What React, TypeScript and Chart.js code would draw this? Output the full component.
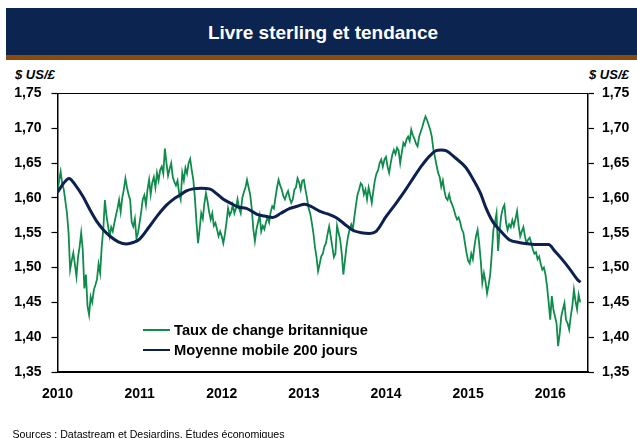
import React, { useEffect, useRef } from "react";
import { Chart, registerables } from "chart.js";

Chart.register(...registerables);

// Weekly GBP/USD readings (52 per year, x = year + week/52)
const gbp2010 = [1.607, 1.625, 1.638, 1.62, 1.612, 1.595, 1.578, 1.55, 1.497, 1.51, 1.521, 1.505, 1.487, 1.515, 1.53, 1.55, 1.525, 1.47, 1.49, 1.445, 1.432, 1.458, 1.45, 1.468, 1.475, 1.483, 1.505, 1.492, 1.53, 1.555, 1.597, 1.575, 1.56, 1.545, 1.558, 1.552, 1.564, 1.575, 1.585, 1.597, 1.58, 1.6, 1.612, 1.628, 1.615, 1.605, 1.597, 1.565, 1.559, 1.57, 1.542, 1.55];
const gbp2011 = [1.565, 1.58, 1.598, 1.604, 1.59, 1.612, 1.626, 1.605, 1.622, 1.63, 1.615, 1.636, 1.625, 1.64, 1.645, 1.635, 1.671, 1.65, 1.632, 1.642, 1.65, 1.63, 1.623, 1.618, 1.625, 1.607, 1.598, 1.636, 1.625, 1.643, 1.635, 1.65, 1.656, 1.64, 1.626, 1.6, 1.565, 1.535, 1.555, 1.578, 1.57, 1.592, 1.607, 1.595, 1.58, 1.569, 1.578, 1.56, 1.564, 1.555, 1.545, 1.552];
const gbp2012 = [1.545, 1.535, 1.548, 1.565, 1.585, 1.575, 1.58, 1.59, 1.578, 1.585, 1.598, 1.585, 1.578, 1.6, 1.608, 1.615, 1.626, 1.615, 1.605, 1.585, 1.555, 1.538, 1.555, 1.565, 1.575, 1.552, 1.56, 1.555, 1.565, 1.572, 1.565, 1.58, 1.588, 1.585, 1.6, 1.615, 1.626, 1.618, 1.612, 1.603, 1.598, 1.605, 1.61, 1.6, 1.593, 1.598, 1.612, 1.615, 1.628, 1.622, 1.612, 1.625];
const gbp2013 = [1.626, 1.612, 1.6, 1.585, 1.578, 1.565, 1.55, 1.53, 1.515, 1.495, 1.505, 1.516, 1.52, 1.53, 1.535, 1.548, 1.559, 1.545, 1.53, 1.515, 1.52, 1.56, 1.55, 1.54, 1.52, 1.49, 1.51, 1.53, 1.545, 1.555, 1.562, 1.555, 1.573, 1.59, 1.605, 1.612, 1.621, 1.618, 1.605, 1.612, 1.598, 1.615, 1.605, 1.593, 1.61, 1.626, 1.635, 1.64, 1.65, 1.655, 1.645, 1.655];
const gbp2014 = [1.659, 1.645, 1.636, 1.65, 1.662, 1.669, 1.663, 1.672, 1.668, 1.65, 1.665, 1.679, 1.675, 1.684, 1.688, 1.682, 1.698, 1.69, 1.685, 1.678, 1.674, 1.688, 1.695, 1.702, 1.71, 1.717, 1.712, 1.705, 1.698, 1.688, 1.67, 1.659, 1.647, 1.636, 1.63, 1.616, 1.625, 1.61, 1.6, 1.597, 1.605, 1.595, 1.59, 1.583, 1.575, 1.569, 1.572, 1.565, 1.555, 1.55, 1.535, 1.521];
const gbp2015 = [1.51, 1.506, 1.52, 1.512, 1.53, 1.545, 1.554, 1.535, 1.51, 1.478, 1.492, 1.48, 1.463, 1.475, 1.49, 1.52, 1.554, 1.565, 1.578, 1.524, 1.555, 1.575, 1.585, 1.59, 1.565, 1.554, 1.562, 1.558, 1.568, 1.56, 1.57, 1.581, 1.56, 1.545, 1.552, 1.558, 1.545, 1.535, 1.54, 1.543, 1.535, 1.526, 1.52, 1.522, 1.512, 1.516, 1.505, 1.497, 1.5, 1.49, 1.473, 1.45];
const gbp2016 = [1.425, 1.459, 1.44, 1.43, 1.42, 1.387, 1.405, 1.43, 1.44, 1.449, 1.425, 1.42, 1.411, 1.43, 1.445, 1.468, 1.452, 1.44, 1.461, 1.45];
const gbpYears = [2010, 2011, 2012, 2013, 2014, 2015, 2016];

// 200-day moving average readings
const maX = [2010.0, 2010.08, 2010.14, 2010.22, 2010.31, 2010.4, 2010.48, 2010.56, 2010.64, 2010.74, 2010.84, 2010.92, 2011.0, 2011.12, 2011.22, 2011.33, 2011.41, 2011.49, 2011.57, 2011.65, 2011.75, 2011.85, 2011.95, 2012.02, 2012.1, 2012.2, 2012.3, 2012.38, 2012.44, 2012.52, 2012.62, 2012.72, 2012.83, 2012.92, 2013.01, 2013.1, 2013.19, 2013.29, 2013.39, 2013.49, 2013.59, 2013.7, 2013.8, 2013.88, 2014.0, 2014.12, 2014.24, 2014.34, 2014.44, 2014.53, 2014.61, 2014.67, 2014.73, 2014.85, 2014.97, 2015.06, 2015.15, 2015.22, 2015.3, 2015.4, 2015.5, 2015.62, 2015.74, 2015.85, 2015.98, 2016.06, 2016.15, 2016.25, 2016.33, 2016.37];
const maY = [1.608, 1.622, 1.628, 1.618, 1.602, 1.582, 1.566, 1.554, 1.545, 1.537, 1.534, 1.536, 1.541, 1.559, 1.575, 1.59, 1.598, 1.604, 1.61, 1.613, 1.614, 1.613, 1.605, 1.598, 1.593, 1.587, 1.585, 1.58, 1.576, 1.574, 1.572, 1.578, 1.585, 1.588, 1.591, 1.587, 1.581, 1.577, 1.572, 1.563, 1.554, 1.55, 1.549, 1.552, 1.573, 1.592, 1.612, 1.63, 1.647, 1.66, 1.668, 1.669, 1.668, 1.657, 1.644, 1.627, 1.607, 1.585, 1.566, 1.552, 1.54, 1.536, 1.534, 1.533, 1.533, 1.523, 1.511, 1.496, 1.483, 1.479];

const yearTicks = [2010, 2011, 2012, 2013, 2014, 2015, 2016];
const xMin = 2010;
const xMax = 2016.46;
const yMin = 1.35;
const yMax = 1.75;
const yStep = 0.05;

const TITLE = "Livre sterling et tendance";
const UNIT = "$ US/£";
const SERIES_FX = "Taux de change britannique";
const SERIES_MA = "Moyenne mobile 200 jours";
const SOURCE = "Sources : Datastream et Desjardins, Études économiques";

const GREEN = "#0f8c4c";
const NAVY = "#0c2150";
const BANNER = "#0b2550";
const BROWN = "#8a4a10";
const FONT = "'Liberation Sans', Arial, Helvetica, sans-serif";

const topBorder = {
  id: "topBorder",
  afterDraw(chart: any) {
    const { ctx, chartArea } = chart;
    ctx.save();
    ctx.strokeStyle = "#000";
    ctx.lineWidth = 1.2;
    ctx.beginPath();
    ctx.moveTo(chartArea.left, chartArea.top);
    ctx.lineTo(chartArea.right, chartArea.top);
    ctx.stroke();
    ctx.restore();
  },
};

export default function App() {
  const ref = useRef<HTMLCanvasElement | null>(null);

  useEffect(() => {
    if (!ref.current) return;
    const series = [gbp2010, gbp2011, gbp2012, gbp2013, gbp2014, gbp2015, gbp2016];
    const fxPoints: { x: number; y: number }[] = [];
    series.forEach((arr, k) => {
      arr.forEach((v, i) => fxPoints.push({ x: gbpYears[k] + i / 52, y: v }));
    });
    const maPoints = maX.map((x, i) => ({ x, y: maY[i] }));
    const fmt = (v: number) => Number(v).toFixed(2).replace(".", ",");
    const tickFont = { family: FONT, size: 14, weight: "bold" as const };

    const chart = new Chart(ref.current, {
      type: "line",
      data: {
        datasets: [
          {
            label: SERIES_FX,
            data: fxPoints,
            borderColor: GREEN,
            borderWidth: 1.8,
            pointRadius: 0,
            tension: 0,
            order: 1,
            yAxisID: "y",
          },
          {
            label: SERIES_MA,
            data: maPoints,
            borderColor: NAVY,
            borderWidth: 3,
            pointRadius: 0,
            cubicInterpolationMode: "monotone",
            order: 0,
            yAxisID: "y",
          },
        ],
      },
      options: {
        animation: false,
        responsive: false,
        maintainAspectRatio: false,
        layout: { padding: { top: 93.5, left: 0, right: 0, bottom: 0 } },
        plugins: { legend: { display: false }, tooltip: { enabled: false }, title: { display: false } },
        scales: {
          x: {
            type: "linear",
            position: "bottom",
            min: xMin,
            max: xMax,
            afterBuildTicks: (s: any) => {
              s.ticks = yearTicks.map((v) => ({ value: v }));
            },
            afterFit: (s: any) => {
              s.height = 66;
            },
            grid: { display: true, drawOnChartArea: false, drawTicks: false },
            border: { color: "#000", width: 2 },
            ticks: {
              autoSkip: false,
              maxRotation: 0,
              padding: 14,
              color: "#000",
              font: tickFont,
              callback: (v: any) => String(v),
            },
          },
          y: {
            type: "linear",
            position: "left",
            min: yMin,
            max: yMax,
            afterFit: (s: any) => {
              s.width = 57.5;
            },
            grid: { drawOnChartArea: false, drawTicks: true, tickLength: 6, tickColor: "#000", tickWidth: 1.2 },
            border: { color: "#000", width: 1.5 },
            ticks: { stepSize: yStep, padding: 10, color: "#000", font: tickFont, callback: (v: any) => fmt(v) },
          },
          y2: {
            type: "linear",
            position: "right",
            min: yMin,
            max: yMax,
            afterFit: (s: any) => {
              s.width = 49;
            },
            grid: { drawOnChartArea: false, drawTicks: true, tickLength: 6, tickColor: "#000", tickWidth: 1.2 },
            border: { color: "#000", width: 1.5 },
            ticks: { stepSize: yStep, padding: 8, color: "#000", font: tickFont, callback: (v: any) => fmt(v) },
          },
        },
      },
      plugins: [topBorder],
    });
    return () => chart.destroy();
  }, []);

  const legendRow = (color: string, text: string, top: number) => (
    <div style={{ position: "absolute", left: 143, top, height: 20, display: "flex", alignItems: "center" }}>
      <div style={{ width: 27, height: 2, background: color, marginRight: 4 }} />
      <span style={{ font: `bold 14.7px ${FONT}`, color: "#000", whiteSpace: "nowrap" }}>{text}</span>
    </div>
  );

  return (
    <div style={{ position: "fixed", left: 0, top: 0, width: 637, height: 438, background: "#fff", overflow: "hidden" }}>
      <div style={{ position: "absolute", left: 6, top: 8, width: 634, height: 46.5, background: BANNER, display: "flex", alignItems: "center", justifyContent: "center" }}>
        <span style={{ font: `bold 19px ${FONT}`, color: "#fff", whiteSpace: "nowrap", marginTop: 3 }}>{TITLE}</span>
      </div>
      <div style={{ position: "absolute", left: 6, top: 54.5, width: 634, height: 5, background: BROWN }} />
      <div style={{ position: "absolute", left: 15, top: 67, font: `italic bold 13px ${FONT}`, lineHeight: "15px", color: "#000", whiteSpace: "nowrap" }}>{UNIT}</div>
      <div style={{ position: "absolute", left: 589, top: 67, font: `italic bold 13px ${FONT}`, lineHeight: "15px", color: "#000", whiteSpace: "nowrap" }}>{UNIT}</div>
      <canvas ref={ref} width={637} height={438} style={{ position: "absolute", left: 0, top: 0, width: 637, height: 438 }} />
      {legendRow(GREEN, SERIES_FX, 320)}
      {legendRow(NAVY, SERIES_MA, 339.5)}
      <div style={{ position: "absolute", left: 12.5, top: 428.3, font: `10.6px ${FONT}`, lineHeight: "12px", color: "#000", whiteSpace: "nowrap" }}>{SOURCE}</div>
    </div>
  );
}
